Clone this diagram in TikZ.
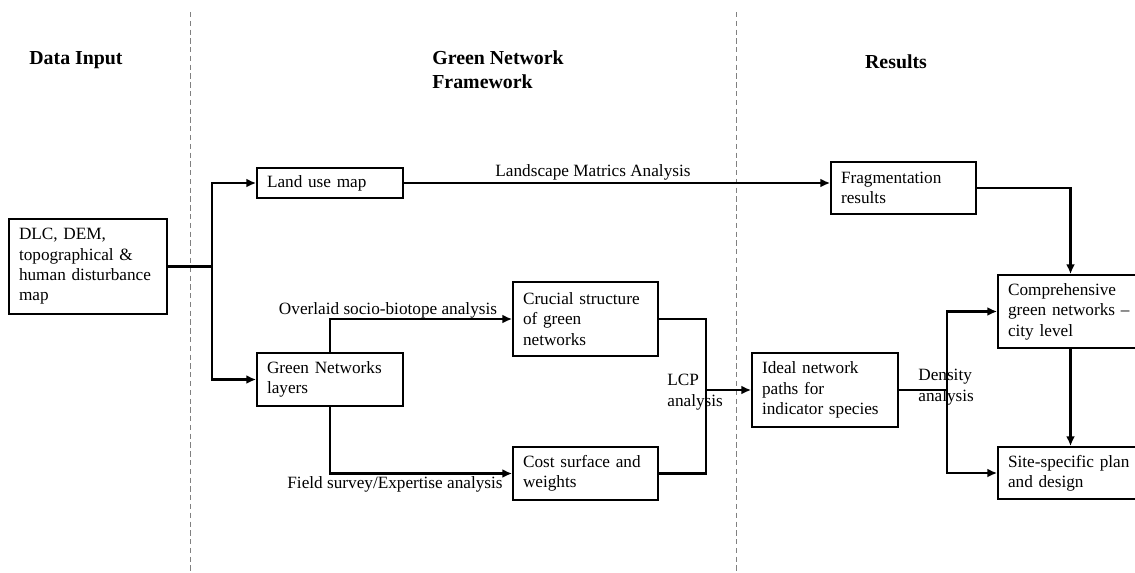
\documentclass[tikz,border=0pt]{standalone}
\usepackage{fontspec}
\setmainfont{Liberation Serif}
\usepackage{tikz}
\usetikzlibrary{arrows.meta,calc,positioning}

\tikzset{
  box/.style={draw, line width=1pt, rectangle, align=left, inner xsep=0.2cm,
    font=\fontsize{9.8}{11.6}\selectfont},
  link/.style={line width=1.6pt},
  arr/.style={link, -{Latex[length=5.5pt,width=5pt]}},
  lbl/.style={font=\fontsize{9.8}{11.6}\selectfont, inner sep=0pt, align=left},
  head/.style={font=\fontsize{11.3}{13.6}\selectfont\bfseries, inner sep=0pt, align=left},
  sep/.style={densely dashed, gray, line width=0.4pt}
}

\begin{document}
\begin{tikzpicture}[x=0.02cm, y=-0.02cm]
\useasboundingbox (0,0) rectangle (1135,572);
\clip (0,0) rectangle (1135,572);

% column separators
\draw[sep] (190,12) -- (190,572);
\draw[sep] (736,12) -- (736,572);

% headings
\node[head] (hin) at (76,60) {Data Input};
\node[head, anchor=west] (hfw) at (432,70) {Green Network\\Framework};
\node[head] (hres) at (896,62) {Results};

% boxes
\node[box, minimum width=3.16cm, minimum height=1.9cm, text width=2.76cm] (dlc) at (88,266.5)
  {DLC, DEM,\\topographical \&\\human disturbance\\map};
\node[box, minimum width=2.92cm, minimum height=0.6cm, text width=2.52cm] (land) at (330,183)
  {Land use map};
\node[box, minimum width=2.92cm, minimum height=1.06cm, text width=2.52cm] (gnl) at (330,379.5)
  {Green Networks\\layers};
\node[box, minimum width=2.9cm, minimum height=1.48cm, text width=2.5cm] (crucial) at (585.5,319)
  {Crucial structure\\of green\\networks};
\node[box, minimum width=2.9cm, minimum height=1.06cm, text width=2.5cm] (cost) at (585.5,473.5)
  {Cost surface and\\weights};
\node[box, minimum width=2.9cm, minimum height=1.04cm, text width=2.5cm] (frag) at (903.5,188)
  {Fragmentation\\results};
\node[box, minimum width=2.92cm, minimum height=1.48cm, text width=2.52cm] (ideal) at (825,390)
  {Ideal network\\paths for\\indicator species};
\node[box, minimum width=2.9cm, minimum height=1.46cm, text width=2.5cm] (comp) at (1070.5,311.5)
  {Comprehensive\\green networks --\\city level};
\node[box, minimum width=2.9cm, minimum height=1.04cm, text width=2.5cm] (site) at (1070.5,473)
  {Site-specific plan\\and design};

% junctions
\coordinate (ja) at (212,266.5);
\coordinate (jb) at (706,390);
\coordinate (jc) at (947,390);

% connectors
\draw[link] (dlc.east) -- (ja);
\draw[arr] (ja) |- (land.west);
\draw[arr] (ja) |- (gnl.west);
\draw[arr] (land.east) -- (land.east -| frag.west);
\draw[arr] (gnl.north) |- (crucial.west);
\draw[arr] (gnl.south) |- (cost.west);
\draw[link] (crucial.east) -| (jb);
\draw[link] (cost.east) -| (jb);
\draw[arr] (jb) -- (ideal.west);
\draw[link] (ideal.east) -- (jc);
\draw[arr] (jc) |- (comp.west);
\draw[arr] (jc) |- (site.west);
\draw[arr] (frag.east) -| (comp.north);
\draw[arr] (comp.south) -- (site.north);

% connector labels
\node[lbl] (lma) at (593,172) {Landscape Matrics Analysis};
\node[lbl] (osb) at (388,310) {Overlaid socio-biotope analysis};
\node[lbl] (fse) at (395,484) {Field survey/Expertise analysis};
\node[lbl, anchor=west] (lcp) at (667,392) {LCP\\analysis};
\node[lbl, anchor=west] (dens) at (918,387) {Density\\analysis};
\end{tikzpicture}
\end{document}
